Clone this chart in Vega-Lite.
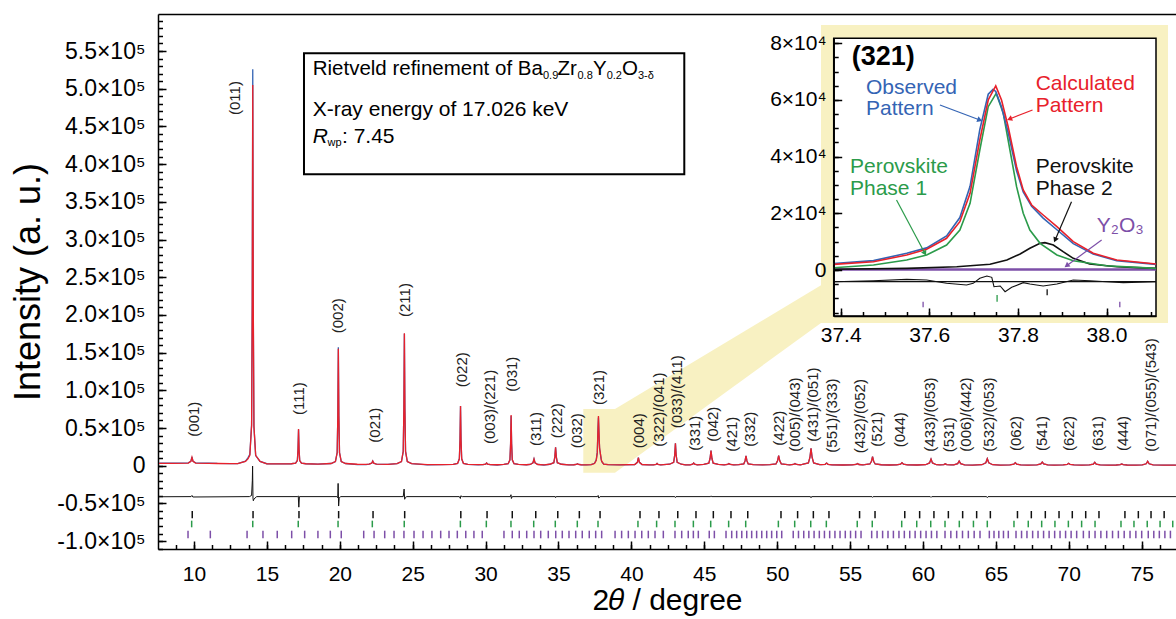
{
"$schema":"https://vega.github.io/schema/vega-lite/v6.json",
"width":1018,"height":535,"autosize":"none",
"padding":{"left":158,"top":14,"right":0,"bottom":70},
"background":"white",
"config":{"view":{"stroke":null},"font":"Liberation Sans",
 "axis":{"labelFont":"Liberation Sans","titleFont":"Liberation Sans","domainColor":"black","tickColor":"black","labelColor":"black","titleColor":"black","grid":false,"domainWidth":1.5,"tickWidth":1.5,"labelFlush":false,"labelOverlap":false,"titleFontWeight":"normal"},
 "text":{"font":"Liberation Sans"}},
"datasets":{
"main":[{"x":7.6,"o":3300,"c":3000},{"x":8.5,"o":3400,"c":3050},{"x":9.61,"o":3700,"c":3450},{"x":9.79,"o":6000,"c":5870},{"x":9.86,"o":11500,"c":11100},{"x":9.93,"o":6000,"c":5870},{"x":10.11,"o":3700,"c":3450},{"x":11.0,"o":3500,"c":3000},{"x":11.6,"o":3000,"c":2900},{"x":12.5,"o":2700,"c":2800},{"x":13.0,"o":2700,"c":2750},{"x":13.53,"o":6000,"c":5700},{"x":13.7,"o":10500,"c":9000},{"x":13.83,"o":15000,"c":13750},{"x":13.95,"o":54000,"c":52930},{"x":13.995,"o":218000,"c":213670},{"x":14.03,"o":525800,"c":505000},{"x":14.065,"o":212000,"c":213670},{"x":14.11,"o":52000,"c":52930},{"x":14.23,"o":13500,"c":13750},{"x":14.53,"o":5600,"c":5700},{"x":15.0,"o":2600,"c":2500},{"x":16.0,"o":2400,"c":2400},{"x":16.67,"o":2580,"c":2580},{"x":16.97,"o":3320,"c":3320},{"x":17.09,"o":7000,"c":6920},{"x":17.135,"o":22000,"c":21700},{"x":17.17,"o":48000,"c":48500},{"x":17.205,"o":21500,"c":21700},{"x":17.25,"o":6900,"c":6920},{"x":17.37,"o":3300,"c":3320},{"x":17.67,"o":2580,"c":2580},{"x":18.5,"o":2150,"c":2150},{"x":19.4,"o":2920,"c":2920},{"x":19.7,"o":5370,"c":5370},{"x":19.82,"o":17500,"c":17300},{"x":19.865,"o":67000,"c":66260},{"x":19.9,"o":157000,"c":155000},{"x":19.935,"o":66000,"c":66260},{"x":19.98,"o":17300,"c":17300},{"x":20.1,"o":5370,"c":5370},{"x":20.4,"o":2920,"c":2920},{"x":21.2,"o":1500,"c":1900},{"x":21.8,"o":1400,"c":1850},{"x":22.01,"o":2070,"c":2070},{"x":22.19,"o":3370,"c":3370},{"x":22.26,"o":6200,"c":6200},{"x":22.33,"o":3370,"c":3370},{"x":22.51,"o":2070,"c":2070},{"x":23.3,"o":1750,"c":1750},{"x":23.93,"o":2690,"c":2690},{"x":24.23,"o":5480,"c":5480},{"x":24.35,"o":19050,"c":19050},{"x":24.395,"o":74710,"c":74710},{"x":24.43,"o":175000,"c":175600},{"x":24.465,"o":74710,"c":74710},{"x":24.51,"o":19050,"c":19050},{"x":24.63,"o":5480,"c":5480},{"x":24.93,"o":2690,"c":2690},{"x":26.0,"o":1100,"c":1500},{"x":27.0,"o":1300,"c":1450},{"x":27.78,"o":1820,"c":1820},{"x":28.08,"o":3060,"c":3060},{"x":28.2,"o":9140,"c":9140},{"x":28.245,"o":34050,"c":34050},{"x":28.28,"o":79200,"c":79200},{"x":28.315,"o":34050,"c":34050},{"x":28.36,"o":9140,"c":9140},{"x":28.48,"o":3060,"c":3060},{"x":28.78,"o":1820,"c":1820},{"x":29.5,"o":1000,"c":1300},{"x":29.82,"o":1390,"c":1390},{"x":30.0,"o":2060,"c":2060},{"x":30.07,"o":3500,"c":3500},{"x":30.14,"o":2060,"c":2060},{"x":30.32,"o":1390,"c":1390},{"x":30.8,"o":900,"c":1260},{"x":31.25,"o":1650,"c":1650},{"x":31.55,"o":2700,"c":2700},{"x":31.67,"o":7850,"c":7850},{"x":31.715,"o":28950,"c":28950},{"x":31.75,"o":66000,"c":67200},{"x":31.785,"o":28950,"c":28950},{"x":31.83,"o":7850,"c":7850},{"x":31.95,"o":2700,"c":2700},{"x":32.25,"o":1650,"c":1650},{"x":32.8,"o":1250,"c":1250},{"x":33.07,"o":1610,"c":1610},{"x":33.25,"o":3920,"c":3920},{"x":33.32,"o":8900,"c":8900},{"x":33.39,"o":3920,"c":3920},{"x":33.57,"o":1610,"c":1610},{"x":34.0,"o":900,"c":1220},{"x":34.4,"o":1900,"c":1900},{"x":34.68,"o":3980,"c":3980},{"x":34.75,"o":11640,"c":11640},{"x":34.8,"o":24400,"c":24400},{"x":34.85,"o":11640,"c":11640},{"x":34.92,"o":3980,"c":3980},{"x":35.2,"o":1900,"c":1900},{"x":35.7,"o":1200,"c":1190},{"x":36.05,"o":1250,"c":1250},{"x":36.23,"o":1640,"c":1640},{"x":36.3,"o":2500,"c":2500},{"x":36.37,"o":1640,"c":1640},{"x":36.55,"o":1250,"c":1250},{"x":36.9,"o":1000,"c":1170},{"x":37.24,"o":1500,"c":1500},{"x":37.47,"o":3200,"c":2900},{"x":37.59,"o":7800,"c":7300},{"x":37.66,"o":18000,"c":17000},{"x":37.705,"o":48000,"c":45800},{"x":37.74,"o":64000,"c":65900},{"x":37.79,"o":35000,"c":36400},{"x":37.82,"o":22500,"c":22900},{"x":37.85,"o":18800,"c":19400},{"x":37.92,"o":9500,"c":10000},{"x":37.96,"o":5700,"c":5900},{"x":38.1,"o":2000,"c":2100},{"x":38.4,"o":1300,"c":1300},{"x":39.2,"o":1120,"c":1120},{"x":40.23,"o":1580,"c":1580},{"x":40.41,"o":4430,"c":4430},{"x":40.48,"o":10600,"c":10600},{"x":40.55,"o":4430,"c":4430},{"x":40.73,"o":1580,"c":1580},{"x":41.2,"o":1100,"c":1100},{"x":41.51,"o":1200,"c":1200},{"x":41.69,"o":1770,"c":1770},{"x":41.76,"o":3000,"c":3000},{"x":41.83,"o":1770,"c":1770},{"x":42.01,"o":1200,"c":1200},{"x":42.62,"o":1950,"c":1950},{"x":42.9,"o":4520,"c":4520},{"x":42.97,"o":13960,"c":13960},{"x":43.02,"o":29700,"c":29700},{"x":43.07,"o":13960,"c":13960},{"x":43.14,"o":4520,"c":4520},{"x":43.42,"o":1950,"c":1950},{"x":43.7,"o":1080,"c":1090},{"x":44.02,"o":1200,"c":1200},{"x":44.2,"o":1930,"c":1930},{"x":44.27,"o":3500,"c":3500},{"x":44.34,"o":1930,"c":1930},{"x":44.52,"o":1200,"c":1200},{"x":44.96,"o":1640,"c":1640},{"x":45.31,"o":3330,"c":3330},{"x":45.395,"o":9540,"c":9540},{"x":45.46,"o":19900,"c":19900},{"x":45.525,"o":9540,"c":9540},{"x":45.61,"o":3330,"c":3330},{"x":45.96,"o":1640,"c":1640},{"x":46.36,"o":1150,"c":1150},{"x":46.6,"o":1670,"c":1670},{"x":46.69,"o":2800,"c":2800},{"x":46.78,"o":1670,"c":1670},{"x":47.02,"o":1150,"c":1150},{"x":47.36,"o":1400,"c":1400},{"x":47.71,"o":2470,"c":2470},{"x":47.795,"o":6380,"c":6380},{"x":47.86,"o":12900,"c":12900},{"x":47.925,"o":6380,"c":6380},{"x":48.01,"o":2470,"c":2470},{"x":48.36,"o":1400,"c":1400},{"x":49.0,"o":1020,"c":1020},{"x":49.5,"o":1370,"c":1370},{"x":49.92,"o":2480,"c":2480},{"x":50.025,"o":6540,"c":6540},{"x":50.1,"o":13300,"c":13300},{"x":50.175,"o":6540,"c":6540},{"x":50.28,"o":2480,"c":2480},{"x":50.7,"o":1370,"c":1370},{"x":50.85,"o":1090,"c":1090},{"x":51.12,"o":1630,"c":1630},{"x":51.22,"o":2800,"c":2800},{"x":51.32,"o":1630,"c":1630},{"x":51.59,"o":1090,"c":1090},{"x":51.72,"o":1640,"c":1640},{"x":52.14,"o":3620,"c":3620},{"x":52.245,"o":10890,"c":10890},{"x":52.32,"o":23000,"c":23000},{"x":52.395,"o":10890,"c":10890},{"x":52.5,"o":3620,"c":3620},{"x":52.92,"o":1500,"c":1500},{"x":53.02,"o":1300,"c":1300},{"x":53.29,"o":1860,"c":1860},{"x":53.39,"o":3500,"c":3500},{"x":53.49,"o":1860,"c":1860},{"x":53.76,"o":1100,"c":1100},{"x":54.5,"o":960,"c":960},{"x":55.14,"o":1040,"c":1040},{"x":55.41,"o":1600,"c":1600},{"x":55.51,"o":2800,"c":2800},{"x":55.61,"o":1600,"c":1600},{"x":55.88,"o":1100,"c":1100},{"x":56.0,"o":1350,"c":1350},{"x":56.36,"o":2270,"c":2270},{"x":56.465,"o":5920,"c":5920},{"x":56.54,"o":12000,"c":12000},{"x":56.615,"o":5920,"c":5920},{"x":56.72,"o":2270,"c":2270},{"x":57.14,"o":1270,"c":1270},{"x":57.7,"o":940,"c":940},{"x":58.19,"o":1070,"c":1070},{"x":58.46,"o":2000,"c":2000},{"x":58.56,"o":4000,"c":4000},{"x":58.66,"o":2000,"c":2000},{"x":58.93,"o":1070,"c":1070},{"x":59.6,"o":910,"c":910},{"x":60.18,"o":1300,"c":1300},{"x":60.45,"o":3700,"c":3700},{"x":60.55,"o":8900,"c":8900},{"x":60.65,"o":3700,"c":3700},{"x":60.92,"o":1300,"c":1300},{"x":61.16,"o":980,"c":980},{"x":61.43,"o":1460,"c":1460},{"x":61.53,"o":2500,"c":2500},{"x":61.63,"o":1460,"c":1460},{"x":61.9,"o":980,"c":980},{"x":62.11,"o":1160,"c":1160},{"x":62.38,"o":2750,"c":2750},{"x":62.48,"o":6200,"c":6200},{"x":62.58,"o":2750,"c":2750},{"x":62.85,"o":1160,"c":1160},{"x":63.4,"o":890,"c":890},{"x":64.04,"o":1300,"c":1300},{"x":64.31,"o":3830,"c":3830},{"x":64.41,"o":9300,"c":9300},{"x":64.51,"o":3830,"c":3830},{"x":64.78,"o":1300,"c":1300},{"x":65.3,"o":880,"c":880},{"x":65.96,"o":1030,"c":1030},{"x":66.23,"o":1970,"c":1970},{"x":66.33,"o":4000,"c":4000},{"x":66.43,"o":1970,"c":1970},{"x":66.7,"o":1030,"c":1030},{"x":67.2,"o":870,"c":870},{"x":67.81,"o":1070,"c":1070},{"x":68.08,"o":2270,"c":2270},{"x":68.18,"o":4900,"c":4900},{"x":68.28,"o":2270,"c":2270},{"x":68.55,"o":1070,"c":1070},{"x":69.0,"o":860,"c":860},{"x":69.62,"o":990,"c":990},{"x":69.89,"o":1680,"c":1680},{"x":69.99,"o":3200,"c":3200},{"x":70.09,"o":1680,"c":1680},{"x":70.36,"o":990,"c":990},{"x":70.9,"o":850,"c":850},{"x":71.41,"o":1030,"c":1030},{"x":71.68,"o":2130,"c":2130},{"x":71.78,"o":4500,"c":4500},{"x":71.88,"o":2130,"c":2130},{"x":72.15,"o":1030,"c":1030},{"x":72.7,"o":840,"c":840},{"x":73.26,"o":900,"c":900},{"x":73.53,"o":1330,"c":1330},{"x":73.63,"o":2300,"c":2300},{"x":73.73,"o":1330,"c":1330},{"x":74.0,"o":900,"c":900},{"x":74.6,"o":830,"c":830},{"x":75.04,"o":1060,"c":1060},{"x":75.31,"o":2500,"c":2500},{"x":75.41,"o":5800,"c":5800},{"x":75.51,"o":2500,"c":2500},{"x":75.78,"o":1060,"c":1060},{"x":76.5,"o":820,"c":820},{"x":77.35,"o":800,"c":800}],
"diff":[{"x":7.6,"d":-41200},{"x":9.8,"d":-41000},{"x":9.86,"d":-39500},{"x":9.92,"d":-41500},{"x":13.8,"d":-41000},{"x":13.95,"d":-39500},{"x":14.0,"d":-20000},{"x":14.02,"d":-500},{"x":14.045,"d":-43000},{"x":14.07,"d":-46500},{"x":14.12,"d":-44000},{"x":14.3,"d":-41000},{"x":17.1,"d":-41000},{"x":17.15,"d":-40000},{"x":17.19,"d":-55000},{"x":17.23,"d":-41000},{"x":19.8,"d":-41000},{"x":19.86,"d":-42500},{"x":19.885,"d":-23500},{"x":19.92,"d":-53500},{"x":19.96,"d":-43000},{"x":20.05,"d":-41000},{"x":24.35,"d":-41000},{"x":24.41,"d":-31000},{"x":24.45,"d":-44500},{"x":24.5,"d":-42000},{"x":24.6,"d":-41000},{"x":28.2,"d":-41000},{"x":28.27,"d":-43500},{"x":28.3,"d":-40000},{"x":28.4,"d":-41000},{"x":31.7,"d":-41000},{"x":31.74,"d":-38500},{"x":31.77,"d":-43500},{"x":31.83,"d":-41000},{"x":34.78,"d":-41000},{"x":34.8,"d":-42300},{"x":34.84,"d":-41000},{"x":37.68,"d":-41000},{"x":37.72,"d":-39500},{"x":37.76,"d":-43000},{"x":37.85,"d":-41000},{"x":42.98,"d":-41000},{"x":43.02,"d":-42200},{"x":43.06,"d":-41000},{"x":45.44,"d":-41000},{"x":45.47,"d":-40000},{"x":45.5,"d":-41000},{"x":52.28,"d":-41000},{"x":52.32,"d":-42500},{"x":52.36,"d":-41000},{"x":56.5,"d":-41000},{"x":56.54,"d":-42000},{"x":56.58,"d":-41000},{"x":60.5,"d":-41000},{"x":60.55,"d":-42000},{"x":60.6,"d":-41000},{"x":64.36,"d":-41000},{"x":64.41,"d":-42300},{"x":64.46,"d":-41000},{"x":77.35,"d":-41000}],
"t2":[{"x":9.88},{"x":14.05},{"x":17.2},{"x":19.92},{"x":22.28},{"x":24.45},{"x":28.3},{"x":30.1},{"x":31.83},{"x":33.44},{"x":34.95},{"x":36.43},{"x":37.85},{"x":40.59},{"x":41.89},{"x":43.18},{"x":44.43},{"x":45.62},{"x":46.83},{"x":47.98},{"x":50.26},{"x":51.4},{"x":52.48},{"x":53.55},{"x":55.65},{"x":56.71},{"x":58.75},{"x":59.77},{"x":60.75},{"x":61.74},{"x":62.72},{"x":63.68},{"x":64.62},{"x":66.48},{"x":67.43},{"x":68.39},{"x":69.33},{"x":70.24},{"x":71.16},{"x":72.07},{"x":73.85},{"x":74.77},{"x":75.64},{"x":76.54}],
"t1":[{"x":9.84},{"x":14.03},{"x":17.15},{"x":19.88},{"x":22.23},{"x":24.42},{"x":28.27},{"x":30.05},{"x":31.74},{"x":33.3},{"x":34.78},{"x":36.29},{"x":37.71},{"x":40.45},{"x":41.73},{"x":42.99},{"x":44.25},{"x":45.44},{"x":46.67},{"x":47.84},{"x":50.08},{"x":51.2},{"x":52.3},{"x":53.37},{"x":55.49},{"x":56.52},{"x":58.54},{"x":59.57},{"x":60.53},{"x":61.51},{"x":62.49},{"x":63.46},{"x":64.41},{"x":66.24},{"x":67.22},{"x":68.14},{"x":69.05},{"x":69.97},{"x":70.88},{"x":71.8},{"x":73.58},{"x":74.47},{"x":75.38},{"x":76.26},{"x":77.13}],
"ty":[{"x":9.59},{"x":11.12},{"x":13.64},{"x":14.73},{"x":15.71},{"x":16.7},{"x":17.59},{"x":18.5},{"x":19.35},{"x":20.1},{"x":21.64},{"x":22.35},{"x":23.08},{"x":23.72},{"x":24.4},{"x":25.09},{"x":25.71},{"x":26.32},{"x":26.92},{"x":27.49},{"x":28.06},{"x":28.64},{"x":29.2},{"x":29.77},{"x":31.26},{"x":31.83},{"x":32.31},{"x":32.82},{"x":33.32},{"x":33.78},{"x":34.3},{"x":34.81},{"x":35.26},{"x":35.72},{"x":36.18},{"x":36.63},{"x":37.11},{"x":37.55},{"x":37.96},{"x":38.88},{"x":39.33},{"x":39.79},{"x":40.25},{"x":40.71},{"x":41.16},{"x":41.62},{"x":42.19},{"x":42.99},{"x":43.45},{"x":43.9},{"x":44.25},{"x":44.59},{"x":45.34},{"x":45.69},{"x":46.49},{"x":46.88},{"x":47.22},{"x":47.57},{"x":47.91},{"x":48.25},{"x":48.59},{"x":48.94},{"x":49.28},{"x":49.62},{"x":49.97},{"x":50.31},{"x":51.1},{"x":51.46},{"x":51.82},{"x":52.17},{"x":52.53},{"x":52.89},{"x":53.24},{"x":53.6},{"x":53.96},{"x":54.31},{"x":54.67},{"x":55.03},{"x":55.38},{"x":55.75},{"x":56.48},{"x":56.85},{"x":57.23},{"x":57.6},{"x":57.97},{"x":58.35},{"x":58.72},{"x":59.09},{"x":59.46},{"x":59.84},{"x":60.21},{"x":60.58},{"x":60.95},{"x":61.51},{"x":61.91},{"x":62.31},{"x":62.71},{"x":63.11},{"x":63.51},{"x":63.91},{"x":64.55},{"x":64.87},{"x":65.2},{"x":65.52},{"x":65.85},{"x":66.38},{"x":66.76},{"x":67.13},{"x":67.52},{"x":67.89},{"x":68.27},{"x":68.65},{"x":69.03},{"x":69.4},{"x":69.78},{"x":70.16},{"x":70.54},{"x":71.0},{"x":71.4},{"x":71.8},{"x":72.2},{"x":72.6},{"x":73.0},{"x":73.4},{"x":73.8},{"x":74.2},{"x":74.6},{"x":75.0},{"x":75.45},{"x":75.83},{"x":76.21},{"x":76.59},{"x":76.97}],
"lab":[{"t":"(001)","x":10.02,"y":38460},{"t":"(011)","x":12.81,"y":465130},{"t":"(111)","x":17.22,"y":67240},{"t":"(002)","x":19.9,"y":175600},{"t":"(021)","x":22.41,"y":30500},{"t":"(211)","x":24.47,"y":197200},{"t":"(022)","x":28.36,"y":104000},{"t":"(003)/(221)","x":30.3,"y":28780},{"t":"(031)","x":31.79,"y":98150},{"t":"(311)","x":33.44,"y":26130},{"t":"(222)","x":34.92,"y":36340},{"t":"(032)","x":36.25,"y":23080},{"t":"(321)","x":37.8,"y":80500},{"t":"(004)","x":40.52,"y":23080},{"t":"(322)/(041)","x":41.91,"y":25200},{"t":"(033)/(411)","x":43.11,"y":49600},{"t":"(331)","x":44.36,"y":19900},{"t":"(042)","x":45.62,"y":31830},{"t":"(421)","x":46.88,"y":18570},{"t":"(332)","x":48.13,"y":25200},{"t":"(422)","x":50.12,"y":26530},{"t":"(005)/(043)","x":51.22,"y":18570},{"t":"(431)/(051)","x":52.48,"y":31830},{"t":"(551)/(333)","x":53.74,"y":17240},{"t":"(432)/(052)","x":55.68,"y":16450},{"t":"(521)","x":56.82,"y":25200},{"t":"(044)","x":58.42,"y":24400},{"t":"(433)/(053)","x":60.48,"y":18570},{"t":"(531)","x":61.8,"y":17770},{"t":"(006)/(442)","x":62.93,"y":18570},{"t":"(532)/(053)","x":64.55,"y":18570},{"t":"(062)","x":66.38,"y":19500},{"t":"(541)","x":68.18,"y":19500},{"t":"(622)","x":70.03,"y":19500},{"t":"(631)","x":71.98,"y":19500},{"t":"(444)","x":73.74,"y":19500},{"t":"(071)/(055)/(543)","x":75.64,"y":18570}],
"inObs":[{"x":37.3842,"y":2300},{"x":37.474,"y":3300},{"x":37.549,"y":5900},{"x":37.594,"y":7800},{"x":37.639,"y":12000},{"x":37.669,"y":18500},{"x":37.692,"y":29500},{"x":37.714,"y":49500},{"x":37.733,"y":62000},{"x":37.744,"y":63700},{"x":37.75,"y":63000},{"x":37.763,"y":57500},{"x":37.778,"y":48500},{"x":37.797,"y":35000},{"x":37.812,"y":27500},{"x":37.831,"y":22500},{"x":37.857,"y":18300},{"x":37.888,"y":14200},{"x":37.925,"y":9300},{"x":37.97,"y":5600},{"x":38.023,"y":3300},{"x":38.1117,"y":2000}],
"inCalc":[{"x":37.3842,"y":2000},{"x":37.474,"y":2930},{"x":37.549,"y":5290},{"x":37.594,"y":7300},{"x":37.639,"y":11180},{"x":37.669,"y":17040},{"x":37.692,"y":27050},{"x":37.714,"y":45850},{"x":37.733,"y":59960},{"x":37.75,"y":64900},{"x":37.763,"y":59960},{"x":37.778,"y":50540},{"x":37.797,"y":36430},{"x":37.812,"y":28220},{"x":37.831,"y":22930},{"x":37.857,"y":19400},{"x":37.888,"y":15270},{"x":37.925,"y":9980},{"x":37.97,"y":5890},{"x":38.023,"y":3530},{"x":38.1117,"y":2120}],
"inP1":[{"x":37.3842,"y":810},{"x":37.474,"y":1760},{"x":37.549,"y":3530},{"x":37.594,"y":5290},{"x":37.639,"y":8820},{"x":37.669,"y":14110},{"x":37.692,"y":23510},{"x":37.714,"y":42320},{"x":37.733,"y":57600},{"x":37.751,"y":62300},{"x":37.767,"y":55260},{"x":37.782,"y":42320},{"x":37.797,"y":29380},{"x":37.812,"y":20000},{"x":37.827,"y":14110},{"x":37.85,"y":9410},{"x":37.888,"y":5290},{"x":37.925,"y":3290},{"x":38.0,"y":1520},{"x":38.1117,"y":590}],
"inP2":[{"x":37.3842,"y":250},{"x":37.549,"y":590},{"x":37.662,"y":1160},{"x":37.737,"y":2000},{"x":37.775,"y":3530},{"x":37.805,"y":5640},{"x":37.827,"y":7650},{"x":37.85,"y":9410},{"x":37.861,"y":9640},{"x":37.88,"y":8820},{"x":37.902,"y":6460},{"x":37.925,"y":4120},{"x":37.962,"y":2120},{"x":38.023,"y":1160},{"x":38.1117,"y":590}],
"inDiff":[{"x":37.3842,"y":-4130},{"x":37.4736,"y":-3770},{"x":37.549,"y":-3290},{"x":37.594,"y":-3530},{"x":37.639,"y":-4700},{"x":37.684,"y":-5290},{"x":37.699,"y":-4700},{"x":37.714,"y":-2940},{"x":37.73,"y":-2120},{"x":37.741,"y":-2590},{"x":37.746,"y":-5880},{"x":37.76,"y":-5640},{"x":37.771,"y":-7640},{"x":37.786,"y":-6110},{"x":37.812,"y":-4470},{"x":37.827,"y":-4940},{"x":37.857,"y":-5640},{"x":37.888,"y":-4940},{"x":37.925,"y":-3530},{"x":37.963,"y":-3770},{"x":38.0,"y":-4130},{"x":38.038,"y":-4470},{"x":38.1117,"y":-4130}]
},
"layer":[
{"layer":[
 {"data":{"values":[{"x":38.875,"t":75200,"b":-9280},{"x":53.004,"t":239400,"b":189260}]},"mark":{"type":"area","color":"#f8f1c2","opacity":1},
  "encoding":{"x":{"field":"x","type":"quantitative","scale":{"domain":[7.531,77.353],"nice":false,"zero":false},"axis":null},"y":{"field":"t","type":"quantitative","scale":{"domain":[-110480,599090],"nice":false,"zero":false},"axis":null},"y2":{"field":"b"}}},
 {"data":{"values":[{"x":36.7,"x2":38.875,"y":-9280,"y2":75200}]},"mark":{"type":"rect","color":"#f8f1c2","opacity":1},
  "encoding":{"x":{"field":"x","type":"quantitative","scale":{"domain":[7.531,77.353],"nice":false,"zero":false},"axis":null},"x2":{"field":"x2"},"y":{"field":"y","type":"quantitative","scale":{"domain":[-110480,599090],"nice":false,"zero":false},"axis":null},"y2":{"field":"y2"}}},
 {"data":{"name":"main"},"mark":{"type":"line","color":"#3464b4","strokeWidth":1.3},
  "encoding":{"x":{"field":"x","type":"quantitative","scale":{"domain":[7.531,77.353],"nice":false,"zero":false},
     "axis":{"orient":"bottom","values":[10,15,20,25,30,35,40,45,50,55,60,65,70,75],"format":"d","labelFontSize":21,"tickSize":-8,"labelPadding":22,"title":"2𝜃 / degree","titleFontSize":30,"titlePadding":1}},
   "y":{"field":"o","type":"quantitative","scale":{"domain":[-110480,599090],"nice":false,"zero":false},
     "axis":{"orient":"left","values":[-100000,-50000,0,50000,100000,150000,200000,250000,300000,350000,400000,450000,500000,550000],"labelExpr":"datum.value == 0 ? '0' : (datum.value < 0 ? '-' : '') + format(abs(datum.value) / 100000, '.1f') + '×10⁵'","labelFontSize":23,"tickSize":-8,"labelPadding":21,"title":"Intensity (a. u.)","titleFontSize":36,"titlePadding":9}}}},
 {"data":{"name":"main"},"mark":{"type":"line","color":"#e8212b","strokeWidth":1.3},
  "encoding":{"x":{"field":"x","type":"quantitative","scale":{"domain":[7.531,77.353],"nice":false,"zero":false},
     "axis":{"orient":"bottom","values":[8.75,10,11.25,12.5,13.75,15,16.25,17.5,18.75,20,21.25,22.5,23.75,25,26.25,27.5,28.75,30,31.25,32.5,33.75,35,36.25,37.5,38.75,40,41.25,42.5,43.75,45,46.25,47.5,48.75,50,51.25,52.5,53.75,55,56.25,57.5,58.75,60,61.25,62.5,63.75,65,66.25,67.5,68.75,70,71.25,72.5,73.75,75,76.25],"labels":false,"domain":false,"tickSize":-4.5,"title":null}},
   "y":{"field":"c","type":"quantitative","scale":{"domain":[-110480,599090],"nice":false,"zero":false},
     "axis":{"orient":"left","values":[-110000,-100000,-90000,-80000,-70000,-60000,-50000,-40000,-30000,-20000,-10000,0,10000,20000,30000,40000,50000,60000,70000,80000,90000,100000,110000,120000,130000,140000,150000,160000,170000,180000,190000,200000,210000,220000,230000,240000,250000,260000,270000,280000,290000,300000,310000,320000,330000,340000,350000,360000,370000,380000,390000,400000,410000,420000,430000,440000,450000,460000,470000,480000,490000,500000,510000,520000,530000,540000,550000,560000,570000,580000,590000],"labels":false,"domain":false,"tickSize":-4.5,"title":null}}}},
 {"data":{"name":"diff"},"mark":{"type":"line","color":"#111111","strokeWidth":1},
  "encoding":{"x":{"field":"x","type":"quantitative","scale":{"domain":[7.531,77.353],"nice":false,"zero":false},"axis":{"orient":"top","ticks":false,"labels":false,"domain":true,"title":null}},
   "y":{"field":"d","type":"quantitative","scale":{"domain":[-110480,599090],"nice":false,"zero":false},"axis":null}}},
 {"data":{"name":"t2"},"mark":{"type":"rule","color":"#111111","strokeWidth":1.5},
  "encoding":{"x":{"field":"x","type":"quantitative","scale":{"domain":[7.531,77.353],"nice":false,"zero":false},"axis":null},"y":{"datum":-60100,"type":"quantitative","scale":{"domain":[-110480,599090],"nice":false,"zero":false},"axis":null},"y2":{"datum":-69800}}},
 {"data":{"name":"t1"},"mark":{"type":"rule","color":"#2b9b4a","strokeWidth":1.5},
  "encoding":{"x":{"field":"x","type":"quantitative","scale":{"domain":[7.531,77.353],"nice":false,"zero":false},"axis":null},"y":{"datum":-72900,"type":"quantitative","scale":{"domain":[-110480,599090],"nice":false,"zero":false},"axis":null},"y2":{"datum":-81700}}},
 {"data":{"name":"ty"},"mark":{"type":"rule","color":"#7d4fa8","strokeWidth":1.5},
  "encoding":{"x":{"field":"x","type":"quantitative","scale":{"domain":[7.531,77.353],"nice":false,"zero":false},"axis":null},"y":{"datum":-86200,"type":"quantitative","scale":{"domain":[-110480,599090],"nice":false,"zero":false},"axis":null},"y2":{"datum":-96300}}},
 {"data":{"name":"lab"},"mark":{"type":"text","angle":270,"align":"left","baseline":"middle","fontSize":15,"color":"#222222"},
  "encoding":{"x":{"field":"x","type":"quantitative","scale":{"domain":[7.531,77.353],"nice":false,"zero":false},"axis":null},"y":{"field":"y","type":"quantitative","scale":{"domain":[-110480,599090],"nice":false,"zero":false},"axis":null},"text":{"field":"t"}}},
 {"data":{"values":[{"x":17.544,"x2":43.628,"y":386480,"y2":546950}]},"mark":{"type":"rect","fill":"white","stroke":"black","strokeWidth":2},
  "encoding":{"x":{"field":"x","type":"quantitative","scale":{"domain":[7.531,77.353],"nice":false,"zero":false},"axis":null},"x2":{"field":"x2"},"y":{"field":"y","type":"quantitative","scale":{"domain":[-110480,599090],"nice":false,"zero":false},"axis":null},"y2":{"field":"y2"}}},
 {"data":{"values":[{"t":"Rietveld refinement of Ba","x":18.141,"y":518180},{"t":"Zr","x":34.931,"y":518180},{"t":"Y","x":37.366,"y":518180},{"t":"O","x":39.355,"y":518180}]},"mark":{"type":"text","align":"left","baseline":"alphabetic","fontSize":20.5,"color":"black"},
  "encoding":{"x":{"field":"x","type":"quantitative","scale":{"domain":[7.531,77.353],"nice":false,"zero":false},"axis":null},"y":{"field":"y","type":"quantitative","scale":{"domain":[-110480,599090],"nice":false,"zero":false},"axis":null},"text":{"field":"t"}}},
 {"data":{"values":[{"t":"X-ray energy of 17.026 keV","x":18.141,"y":463800},{"t":": 7.45","x":20.151,"y":428400}]},"mark":{"type":"text","align":"left","baseline":"alphabetic","fontSize":21,"color":"black"},
  "encoding":{"x":{"field":"x","type":"quantitative","scale":{"domain":[7.531,77.353],"nice":false,"zero":false},"axis":null},"y":{"field":"y","type":"quantitative","scale":{"domain":[-110480,599090],"nice":false,"zero":false},"axis":null},"text":{"field":"t"}}},
 {"data":{"values":[{"t":"R","x":18.141,"y":428400}]},"mark":{"type":"text","align":"left","baseline":"alphabetic","fontSize":21,"fontStyle":"italic","color":"black"},
  "encoding":{"x":{"field":"x","type":"quantitative","scale":{"domain":[7.531,77.353],"nice":false,"zero":false},"axis":null},"y":{"field":"y","type":"quantitative","scale":{"domain":[-110480,599090],"nice":false,"zero":false},"axis":null},"text":{"field":"t"}}},
 {"data":{"values":[{"t":"0.9","x":33.937,"y":513540},{"t":"0.8","x":36.303,"y":513540},{"t":"0.2","x":38.306,"y":513540},{"t":"3-δ","x":40.453,"y":513540},{"t":"wp","x":19.156,"y":423360}]},"mark":{"type":"text","align":"left","baseline":"alphabetic","fontSize":11,"color":"black"},
  "encoding":{"x":{"field":"x","type":"quantitative","scale":{"domain":[7.531,77.353],"nice":false,"zero":false},"axis":null},"y":{"field":"y","type":"quantitative","scale":{"domain":[-110480,599090],"nice":false,"zero":false},"axis":null},"text":{"field":"t"}}}
],"resolve":{"axis":{"x":"independent","y":"independent"}}},
{"layer":[
 {"data":{"values":[{"x":37.3555,"x2":38.1388,"y":-18690,"y2":86410}]},"mark":{"type":"rect","color":"#f8f1c2","opacity":1},
  "encoding":{"x":{"field":"x","type":"quantitative","scale":{"domain":[37.3842,38.1117],"range":[675.7,998],"nice":false,"zero":false},"axis":null},"x2":{"field":"x2"},"y":{"field":"y","type":"quantitative","scale":{"domain":[-16224,81720],"range":[302,24.3],"nice":false,"zero":false},"axis":null},"y2":{"field":"y2"}}},
 {"data":{"values":[{"x":37.3842,"x2":38.1117,"y":-16224,"y2":81720}]},"mark":{"type":"rect","fill":"white","stroke":"black","strokeWidth":1.5},
  "encoding":{"x":{"field":"x","type":"quantitative","scale":{"domain":[37.3842,38.1117],"range":[675.7,998],"nice":false,"zero":false},"axis":null},"x2":{"field":"x2"},"y":{"field":"y","type":"quantitative","scale":{"domain":[-16224,81720],"range":[302,24.3],"nice":false,"zero":false},"axis":null},"y2":{"field":"y2"}}},
 {"data":{"values":[{"x":37.3842,"x2":38.1117,"y":-4130}]},"mark":{"type":"rule","color":"#111111","strokeWidth":1.2},
  "encoding":{"x":{"field":"x","type":"quantitative","scale":{"domain":[37.3842,38.1117],"range":[675.7,998],"nice":false,"zero":false},"axis":null},"x2":{"field":"x2"},"y":{"field":"y","type":"quantitative","scale":{"domain":[-16224,81720],"range":[302,24.3],"nice":false,"zero":false},"axis":null}}},
 {"data":{"name":"inDiff"},"mark":{"type":"line","color":"#111111","strokeWidth":1.1},
  "encoding":{"x":{"field":"x","type":"quantitative","scale":{"domain":[37.3842,38.1117],"range":[675.7,998],"nice":false,"zero":false},"axis":null},"y":{"field":"y","type":"quantitative","scale":{"domain":[-16224,81720],"range":[302,24.3],"nice":false,"zero":false},"axis":null}}},
 {"data":{"values":[{"x":37.3842,"y":200},{"x":38.1117,"y":200}]},"mark":{"type":"line","color":"#7d4fa8","strokeWidth":2.5},
  "encoding":{"x":{"field":"x","type":"quantitative","scale":{"domain":[37.3842,38.1117],"range":[675.7,998],"nice":false,"zero":false},"axis":null},"y":{"field":"y","type":"quantitative","scale":{"domain":[-16224,81720],"range":[302,24.3],"nice":false,"zero":false},"axis":null}}},
 {"data":{"name":"inP2"},"mark":{"type":"line","color":"#111111","strokeWidth":1.6},
  "encoding":{"x":{"field":"x","type":"quantitative","scale":{"domain":[37.3842,38.1117],"range":[675.7,998],"nice":false,"zero":false},"axis":null},"y":{"field":"y","type":"quantitative","scale":{"domain":[-16224,81720],"range":[302,24.3],"nice":false,"zero":false},"axis":null}}},
 {"data":{"name":"inP1"},"mark":{"type":"line","color":"#2b9b4a","strokeWidth":1.6},
  "encoding":{"x":{"field":"x","type":"quantitative","scale":{"domain":[37.3842,38.1117],"range":[675.7,998],"nice":false,"zero":false},"axis":null},"y":{"field":"y","type":"quantitative","scale":{"domain":[-16224,81720],"range":[302,24.3],"nice":false,"zero":false},"axis":null}}},
 {"data":{"name":"inObs"},"mark":{"type":"line","color":"#3464b4","strokeWidth":1.6},
  "encoding":{"x":{"field":"x","type":"quantitative","scale":{"domain":[37.3842,38.1117],"range":[675.7,998],"nice":false,"zero":false},
     "axis":{"orient":"bottom","offset":-233,"zindex":1,"values":[37.4,37.6,37.8,38.0],"labelExpr":"format(datum.value, '.1f')","labelFontSize":21,"tickSize":-8,"labelPadding":16.5,"title":null}},
   "y":{"field":"y","type":"quantitative","scale":{"domain":[-16224,81720],"range":[302,24.3],"nice":false,"zero":false},
     "axis":{"orient":"left","offset":-675.7,"zindex":1,"values":[0,20000,40000,60000,80000],"labelExpr":"datum.value == 0 ? '0' : format(datum.value / 10000, 'd') + '×10⁴'","labelFontSize":21,"tickSize":-8,"labelPadding":15.7,"title":null}}}},
 {"data":{"name":"inCalc"},"mark":{"type":"line","color":"#e8212b","strokeWidth":1.6},
  "encoding":{"x":{"field":"x","type":"quantitative","scale":{"domain":[37.3842,38.1117],"range":[675.7,998],"nice":false,"zero":false},
     "axis":{"orient":"bottom","offset":-233,"zindex":1,"values":[37.4,37.45,37.5,37.55,37.6,37.65,37.7,37.75,37.8,37.85,37.9,37.95,38.0,38.05,38.1],"labels":false,"domain":false,"tickSize":-4.5,"title":null}},
   "y":{"field":"y","type":"quantitative","scale":{"domain":[-16224,81720],"range":[302,24.3],"nice":false,"zero":false},
     "axis":{"orient":"left","offset":-675.7,"zindex":1,"values":[-15000,-10000,-5000,0,5000,10000,15000,20000,25000,30000,35000,40000,45000,50000,55000,60000,65000,70000,75000,80000],"labels":false,"domain":false,"tickSize":-4.5,"title":null}}}},
 {"data":{"values":[{"x":37.753}]},"mark":{"type":"rule","color":"#2b9b4a","strokeWidth":1.3},
  "encoding":{"x":{"field":"x","type":"quantitative","scale":{"domain":[37.3842,38.1117],"range":[675.7,998],"nice":false,"zero":false},"axis":null},"y":{"datum":-8820,"type":"quantitative","scale":{"domain":[-16224,81720],"range":[302,24.3],"nice":false,"zero":false},"axis":null},"y2":{"datum":-11180}}},
 {"data":{"values":[{"x":37.866}]},"mark":{"type":"rule","color":"#111111","strokeWidth":1.3},
  "encoding":{"x":{"field":"x","type":"quantitative","scale":{"domain":[37.3842,38.1117],"range":[675.7,998],"nice":false,"zero":false},"axis":null},"y":{"datum":-6800,"type":"quantitative","scale":{"domain":[-16224,81720],"range":[302,24.3],"nice":false,"zero":false},"axis":null},"y2":{"datum":-8940}}},
 {"data":{"values":[{"x":37.586},{"x":38.03}]},"mark":{"type":"rule","color":"#7d4fa8","strokeWidth":1.3},
  "encoding":{"x":{"field":"x","type":"quantitative","scale":{"domain":[37.3842,38.1117],"range":[675.7,998],"nice":false,"zero":false},"axis":null},"y":{"datum":-11180,"type":"quantitative","scale":{"domain":[-16224,81720],"range":[302,24.3],"nice":false,"zero":false},"axis":null},"y2":{"datum":-13160}}},
 {"data":{"values":[{"x":37.624,"y":58200,"x2":37.714,"y2":52900,"c":"obs"},{"x":37.833,"y":56430,"x2":37.781,"y2":53260,"c":"calc"},{"x":37.526,"y":24690,"x2":37.59,"y2":5890,"c":"p1"},{"x":37.921,"y":24090,"x2":37.884,"y2":10580,"c":"p2"},{"x":37.989,"y":10580,"x2":37.91,"y2":1520,"c":"y"}]},"mark":{"type":"rule","strokeWidth":1.2},
  "encoding":{"x":{"field":"x","type":"quantitative","scale":{"domain":[37.3842,38.1117],"range":[675.7,998],"nice":false,"zero":false},"axis":null},"x2":{"field":"x2"},"y":{"field":"y","type":"quantitative","scale":{"domain":[-16224,81720],"range":[302,24.3],"nice":false,"zero":false},"axis":null},"y2":{"field":"y2"},
   "color":{"field":"c","type":"nominal","scale":{"domain":["obs","calc","p1","p2","y"],"range":["#3464b4","#e8212b","#2b9b4a","#111111","#7d4fa8"]},"legend":null}}},
 {"data":{"values":[{"x":37.714,"y":52900}]},"mark":{"type":"point","shape":"triangle-up","filled":true,"size":35,"angle":110.6,"color":"#3464b4","opacity":1},
  "encoding":{"x":{"field":"x","type":"quantitative","scale":{"domain":[37.3842,38.1117],"range":[675.7,998],"nice":false,"zero":false},"axis":null},"y":{"field":"y","type":"quantitative","scale":{"domain":[-16224,81720],"range":[302,24.3],"nice":false,"zero":false},"axis":null}}},
 {"data":{"values":[{"x":37.781,"y":53260}]},"mark":{"type":"point","shape":"triangle-up","filled":true,"size":35,"angle":249,"color":"#e8212b","opacity":1},
  "encoding":{"x":{"field":"x","type":"quantitative","scale":{"domain":[37.3842,38.1117],"range":[675.7,998],"nice":false,"zero":false},"axis":null},"y":{"field":"y","type":"quantitative","scale":{"domain":[-16224,81720],"range":[302,24.3],"nice":false,"zero":false},"axis":null}}},
 {"data":{"values":[{"x":37.59,"y":5890}]},"mark":{"type":"point","shape":"triangle-up","filled":true,"size":35,"angle":152,"color":"#2b9b4a","opacity":1},
  "encoding":{"x":{"field":"x","type":"quantitative","scale":{"domain":[37.3842,38.1117],"range":[675.7,998],"nice":false,"zero":false},"axis":null},"y":{"field":"y","type":"quantitative","scale":{"domain":[-16224,81720],"range":[302,24.3],"nice":false,"zero":false},"axis":null}}},
 {"data":{"values":[{"x":37.884,"y":10580}]},"mark":{"type":"point","shape":"triangle-up","filled":true,"size":35,"angle":203.6,"color":"#111111","opacity":1},
  "encoding":{"x":{"field":"x","type":"quantitative","scale":{"domain":[37.3842,38.1117],"range":[675.7,998],"nice":false,"zero":false},"axis":null},"y":{"field":"y","type":"quantitative","scale":{"domain":[-16224,81720],"range":[302,24.3],"nice":false,"zero":false},"axis":null}}},
 {"data":{"values":[{"x":37.91,"y":1520}]},"mark":{"type":"point","shape":"triangle-up","filled":true,"size":35,"angle":233.7,"color":"#7d4fa8","opacity":1},
  "encoding":{"x":{"field":"x","type":"quantitative","scale":{"domain":[37.3842,38.1117],"range":[675.7,998],"nice":false,"zero":false},"axis":null},"y":{"field":"y","type":"quantitative","scale":{"domain":[-16224,81720],"range":[302,24.3],"nice":false,"zero":false},"axis":null}}},
 {"data":{"values":[{"t":"Observed","x":37.457,"y":61970,"c":"obs"},{"t":"Pattern","x":37.457,"y":54670,"c":"obs"},{"t":"Calculated","x":37.84,"y":63490,"c":"calc"},{"t":"Pattern","x":37.84,"y":55830,"c":"calc"},{"t":"Perovskite","x":37.421,"y":34100,"c":"p1"},{"t":"Phase 1","x":37.421,"y":26450,"c":"p1"},{"t":"Perovskite","x":37.84,"y":34100,"c":"p2"},{"t":"Phase 2","x":37.84,"y":26450,"c":"p2"},{"t":"Y₂O₃","x":37.978,"y":13290,"c":"y"}]},"mark":{"type":"text","align":"left","baseline":"alphabetic","fontSize":21},
  "encoding":{"x":{"field":"x","type":"quantitative","scale":{"domain":[37.3842,38.1117],"range":[675.7,998],"nice":false,"zero":false},"axis":null},"y":{"field":"y","type":"quantitative","scale":{"domain":[-16224,81720],"range":[302,24.3],"nice":false,"zero":false},"axis":null},"text":{"field":"t"},
   "color":{"field":"c","type":"nominal","scale":{"domain":["obs","calc","p1","p2","y"],"range":["#3464b4","#e8212b","#2b9b4a","#111111","#7d4fa8"]},"legend":null}}},
 {"data":{"values":[{"t":"(321)","x":37.425,"y":72300}]},"mark":{"type":"text","align":"left","baseline":"alphabetic","fontSize":27,"fontWeight":"bold","color":"black"},
  "encoding":{"x":{"field":"x","type":"quantitative","scale":{"domain":[37.3842,38.1117],"range":[675.7,998],"nice":false,"zero":false},"axis":null},"y":{"field":"y","type":"quantitative","scale":{"domain":[-16224,81720],"range":[302,24.3],"nice":false,"zero":false},"axis":null},"text":{"field":"t"}}}
],"resolve":{"axis":{"x":"independent","y":"independent"}}}
],
"resolve":{"scale":{"x":"independent","y":"independent"},"axis":{"x":"independent","y":"independent"}}
}
